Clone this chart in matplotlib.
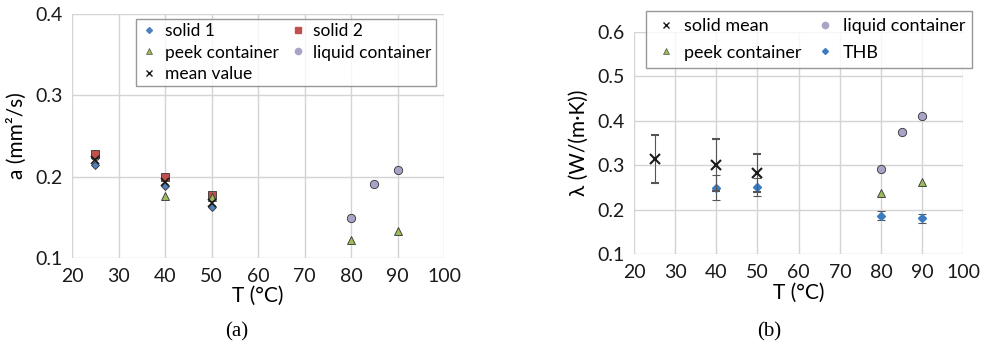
import numpy as np
import matplotlib
matplotlib.use("Agg")
import matplotlib.pyplot as plt

plt.rcParams['font.family'] = ['Lato', 'DejaVu Sans']

# (a) thermal diffusivity
t_s1 = [25, 40, 50]
a_s1 = [0.214, 0.188, 0.163]
t_s2 = [25, 40, 50]
a_s2 = [0.228, 0.199, 0.178]
t_peek_a = [40, 50, 80, 90]
a_peek = [0.176, 0.175, 0.122, 0.133]
t_liq_a = [25, 80, 85, 90]
a_liq = [0.225, 0.149, 0.191, 0.208]
t_mean_a = [25, 40, 50]
a_mean = [0.220, 0.194, 0.168]

# (b) thermal conductivity
t_sm = [25, 40, 50]
k_sm = [0.315, 0.301, 0.283]
k_sm_err = [0.054, 0.058, 0.042]
t_liq_b = [80, 85, 90]
k_liq = [0.291, 0.375, 0.411]
t_peek_b = [80, 90]
k_peek = [0.237, 0.262]
t_thb = [40, 50, 80, 90]
k_thb = [0.250, 0.251, 0.187, 0.181]
k_thb_err = [0.029, 0.020, 0.010, 0.010]

xticks = [20, 30, 40, 50, 60, 70, 80, 90, 100]

c_blue = '#4f81bd'
c_red = '#c0504d'
c_green = '#9bbb59'
c_lil = '#aaa3c8'
c_thb = '#3b7cc0'
edge = '#333333'

fig = plt.figure(figsize=(9.86, 3.49), dpi=100)
W, H = 986, 349
ax1 = fig.add_axes([72 / W, 1 - 258 / H, (444 - 72) / W, (258 - 14) / H])
ax2 = fig.add_axes([634 / W, 1 - 254.3 / H, (963.3 - 634) / W, (254.3 - 31.7) / H])

for ax in (ax1, ax2):
    for s in ax.spines.values():
        s.set_visible(False)
    ax.grid(True, color='#d4d4d4', lw=1)
    ax.set_axisbelow(True)
    ax.tick_params(length=0, labelsize=14, colors='#1a1a1a', pad=7)
    ax.set_xlim(20, 100)
    ax.set_xticks(xticks)
    ax.set_xlabel('T (°C)', fontsize=15, labelpad=1)

ms = 5.5
ax1.plot(t_s1, a_s1, 'D', ms=ms - 1, color=c_blue, mec=edge, mew=0.6, ls='none', zorder=5)
ax1.plot(t_liq_a, a_liq, 'o', ms=ms + 0.5, color=c_lil, mec=edge, mew=0.6, ls='none', zorder=3)
ax1.plot(t_s2, a_s2, 's', ms=ms, color=c_red, mec=edge, mew=0.6, ls='none', zorder=4)
ax1.plot(t_peek_a, a_peek, '^', ms=ms + 0.5, color=c_green, mec=edge, mew=0.6, ls='none', zorder=5)
ax1.plot(t_mean_a, a_mean, 'x', ms=ms, color='#1a1a1a', mew=1.2, ls='none', zorder=6)
ax1.set_ylim(0.1, 0.4)
ax1.set_yticks([0.1, 0.2, 0.3, 0.4])
ax1.set_yticklabels(['0.1', '0.2', '0.3', '0.4'])
ax1.set_ylabel('a (mm²/s)', fontsize=15, labelpad=6)

lh1 = [plt.Line2D([], [], marker='D', ls='none', color=c_blue, ms=ms - 2.5),
       plt.Line2D([], [], marker='^', ls='none', color=c_green, mec=edge, mew=0.4, ms=ms - 1),
       plt.Line2D([], [], marker='x', ls='none', color='#1a1a1a', mew=1.0, ms=ms - 1.5),
       plt.Line2D([], [], marker='s', ls='none', color=c_red, ms=ms - 1.5),
       plt.Line2D([], [], marker='o', ls='none', color=c_lil, ms=ms - 1)]
leg1 = fig.legend(lh1, ['solid 1', 'peek container', 'mean value', 'solid 2', 'liquid container'],
                  ncol=2, loc='upper left', bbox_to_anchor=(136 / W, 1 - 19 / H),
                  fontsize=12.5, frameon=True, fancybox=False, edgecolor='#7f7f7f',
                  handlelength=1.0, handletextpad=0.4, labelspacing=0.3, borderpad=0.25,
                  borderaxespad=0, columnspacing=0.6)
leg1.get_frame().set_linewidth(1.0)

ax2.errorbar(t_sm, k_sm, yerr=k_sm_err, fmt='x', ms=ms + 1, color='#1a1a1a', mew=1.5,
             ecolor='#555555', elinewidth=0.8, capsize=3, capthick=0.8, zorder=5)
ax2.errorbar(t_thb, k_thb, yerr=k_thb_err, fmt='D', ms=ms - 1, color=c_thb, mec=c_thb,
             ecolor='#555555', elinewidth=0.8, capsize=3, capthick=0.8, zorder=4)
ax2.plot(t_liq_b, k_liq, 'o', ms=ms + 0.5, color=c_lil, mec=edge, mew=0.6, ls='none', zorder=4)
ax2.plot(t_peek_b, k_peek, '^', ms=ms + 0.5, color=c_green, mec=edge, mew=0.6, ls='none', zorder=4)
ax2.set_ylim(0.1, 0.6)
ax2.set_yticks([0.1, 0.2, 0.3, 0.4, 0.5, 0.6])
ax2.set_yticklabels(['0.1', '0.2', '0.3', '0.4', '0.5', '0.6'])
ax2.set_ylabel('λ (W/(m·K))', fontsize=15, labelpad=6)

hs = [plt.Line2D([], [], marker='x', ls='none', color='#1a1a1a', mew=1.0, ms=ms - 1.5),
      plt.Line2D([], [], marker='^', ls='none', color=c_green, mec=edge, mew=0.4, ms=ms - 1),
      plt.Line2D([], [], marker='o', ls='none', color=c_lil, ms=ms - 1),
      plt.Line2D([], [], marker='D', ls='none', color=c_thb, ms=ms - 2.5)]
leg2 = fig.legend(hs, ['solid mean', 'peek container', 'liquid container', 'THB'],
                  ncol=2, loc='upper left', bbox_to_anchor=(645.7 / W, 1 - 10.7 / H),
                  fontsize=13, frameon=True, fancybox=False, edgecolor='#7f7f7f',
                  handlelength=1.4, handletextpad=0.3, labelspacing=0.6, borderpad=0.4,
                  borderaxespad=0, columnspacing=0.6)
leg2.get_frame().set_linewidth(1.0)

fig.text(237 / W, 1 - 332 / H, '(a)', family='Liberation Serif', fontsize=15, ha='center', va='center')
fig.text(769 / W, 1 - 332 / H, '(b)', family='Liberation Serif', fontsize=15, ha='center', va='center')

fig.savefig('out.png', dpi=100)
